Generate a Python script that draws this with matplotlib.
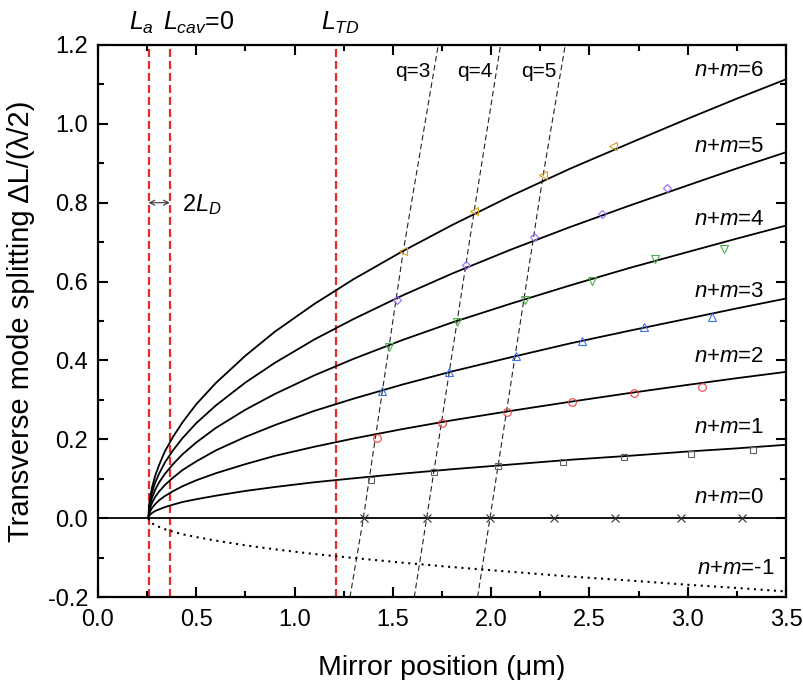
import matplotlib.pyplot as plt
from matplotlib.ticker import MultipleLocator

plt.rcParams['font.family'] = ['Liberation Sans', 'DejaVu Sans']
plt.rcParams['mathtext.fontset'] = 'custom'
plt.rcParams['mathtext.rm'] = 'Liberation Sans'
plt.rcParams['mathtext.it'] = 'Liberation Sans:italic'
plt.rcParams['axes.unicode_minus'] = False

# theory curves (mirror position in um)
x_theory = [0.257, 0.26, 0.265, 0.275, 0.29, 0.31, 0.34, 0.38, 0.43, 0.5, 0.6, 0.75,
            0.9, 1.1, 1.3, 1.55, 1.8, 2.1, 2.4, 2.7, 3.0, 3.25, 3.5]
split_6 = [0, 0.032, 0.052, 0.078, 0.106, 0.134, 0.169, 0.205, 0.243, 0.289, 0.343, 0.412,
           0.473, 0.543, 0.606, 0.677, 0.743, 0.817, 0.886, 0.950, 1.013, 1.064, 1.113]
split_5 = [0, 0.027, 0.044, 0.065, 0.089, 0.112, 0.141, 0.171, 0.203, 0.241, 0.286, 0.344,
           0.394, 0.453, 0.505, 0.565, 0.620, 0.681, 0.738, 0.792, 0.844, 0.887, 0.928]
split_4 = [0, 0.021, 0.035, 0.052, 0.071, 0.090, 0.112, 0.136, 0.162, 0.192, 0.229, 0.275,
           0.315, 0.362, 0.404, 0.452, 0.496, 0.544, 0.590, 0.634, 0.675, 0.709, 0.742]
split_3 = [0, 0.016, 0.026, 0.039, 0.053, 0.067, 0.084, 0.102, 0.122, 0.144, 0.172, 0.206,
           0.236, 0.272, 0.303, 0.339, 0.372, 0.408, 0.443, 0.475, 0.506, 0.532, 0.557]
split_2 = [0, 0.011, 0.017, 0.026, 0.035, 0.045, 0.056, 0.068, 0.081, 0.096, 0.114, 0.137,
           0.158, 0.181, 0.202, 0.226, 0.248, 0.272, 0.295, 0.317, 0.338, 0.355, 0.371]
split_1 = [0, 0.005, 0.009, 0.013, 0.018, 0.022, 0.028, 0.034, 0.041, 0.048, 0.057, 0.069,
           0.079, 0.091, 0.101, 0.113, 0.124, 0.136, 0.148, 0.158, 0.169, 0.177, 0.186]
split_m1 = [0, -0.005, -0.009, -0.013, -0.018, -0.022, -0.028, -0.034, -0.041, -0.048, -0.057, -0.069,
            -0.079, -0.091, -0.101, -0.113, -0.124, -0.136, -0.148, -0.158, -0.169, -0.177, -0.186]
x_zero = [0.0, 3.5]
split_0 = [0.0, 0.0]

# measured modes
meas6_x = [1.553, 1.914, 2.265, 2.621]
meas6_y = [0.677, 0.780, 0.871, 0.944]
meas5_x = [1.519, 1.870, 2.218, 2.565, 2.893]
meas5_y = [0.554, 0.643, 0.712, 0.771, 0.837]
meas4_x = [1.482, 1.824, 2.172, 2.511, 2.833, 3.184]
meas4_y = [0.434, 0.497, 0.552, 0.601, 0.656, 0.683]
meas3_x = [1.443, 1.787, 2.126, 2.463, 2.777, 3.126]
meas3_y = [0.322, 0.370, 0.411, 0.449, 0.485, 0.509]
meas2_x = [1.421, 1.748, 2.082, 2.412, 2.725, 3.072]
meas2_y = [0.202, 0.242, 0.269, 0.294, 0.318, 0.333]
meas1_x = [1.387, 1.707, 2.036, 2.365, 2.677, 3.016, 3.330]
meas1_y = [0.096, 0.117, 0.131, 0.142, 0.156, 0.162, 0.173]
meas0_x = [1.355, 1.672, 1.994, 2.321, 2.630, 2.964, 3.277]
meas0_y = [0, 0, 0, 0, 0, 0, 0]

# constant-q guide lines
q3_x = [1.282, 1.350, 1.553, 1.731]
q3_y = [-0.2, 0.0, 0.677, 1.2]
q4_x = [1.609, 1.672, 1.914, 2.048]
q4_y = [-0.2, 0.0, 0.780, 1.2]
q5_x = [1.931, 1.994, 2.265, 2.377]
q5_y = [-0.2, 0.0, 0.871, 1.2]

L_a = 0.257
L_cav0 = 0.365
L_TD = 1.213

fig = plt.figure(figsize=(8.04, 6.8), dpi=100)
ax = fig.add_subplot(111)
fig.subplots_adjust(left=98/804, right=786/804, top=1-45/680, bottom=1-597/680)

# red reference lines
for xv in [L_a, L_cav0, L_TD]:
    ax.axvline(xv, color='#e82a2a', lw=1.6, dashes=(3.6, 1.8), zorder=1)

# q lines
for qx, qy in [(q3_x, q3_y), (q4_x, q4_y), (q5_x, q5_y)]:
    ax.plot(qx, qy, color='#222222', lw=0.8, dashes=(5, 3), zorder=2)

for ys in [split_6, split_5, split_4, split_3, split_2, split_1]:
    ax.plot(x_theory, ys, color='black', lw=1.3, zorder=3)
ax.plot(x_zero, split_0, color='black', lw=1.3, zorder=3)
ax.plot(x_theory, split_m1, color='black', lw=1.5, linestyle=(0, (1, 2.2)), zorder=3)

mk = dict(linestyle='none', mfc='none', ms=5.5, mew=0.8, zorder=4)
ax.plot(meas6_x, meas6_y, marker='<', color='#d9a022', **mk)
ax.plot(meas5_x, meas5_y, marker='D', color='#9a6cf5', ms=4.5, mew=0.8, linestyle='none', mfc='none', zorder=4)
ax.plot(meas4_x, meas4_y, marker='v', color='#4fae4f', **mk)
ax.plot(meas3_x, meas3_y, marker='^', color='#3f72ea', **mk)
ax.plot(meas2_x, meas2_y, marker='o', color='#ee4040', **mk)
ax.plot(meas1_x, meas1_y, marker='s', color='#606060', ms=4.5, mew=0.8, linestyle='none', mfc='none', zorder=4)
ax.plot(meas0_x, meas0_y, marker='x', color='#333333', **mk)

# labels for each order
labels = [(1.135, '6'), (0.943, '5'), (0.757, '4'), (0.575, '3'),
          (0.411, '2'), (0.230, '1'), (0.052, '0'), (-0.127, '-1')]
for yv, s in labels:
    xr = 3.44 if s == '-1' else 3.39
    ax.text(xr, yv, r'$n$+$m$=' + s, fontsize=16, ha='right', va='center')

for xq, s in [(1.69, 'q=3'), (2.005, 'q=4'), (2.335, 'q=5')]:
    ax.text(xq, 1.132, s, fontsize=15, ha='right', va='center')

ax.text(0.219, 1.238, r'$L_a$', fontsize=18, ha='center', va='baseline')
ax.text(0.33, 1.238, r'$L_{cav}$=0', fontsize=18, ha='left', va='baseline')
ax.text(1.135, 1.238, r'$L_{TD}$', fontsize=18, ha='left', va='baseline')
ax.text(0.425, 0.78, r'2$L_D$', fontsize=17, ha='left', va='baseline')
ax.annotate('', xy=(L_a, 0.8), xytext=(L_cav0, 0.8),
            arrowprops=dict(arrowstyle='<->', lw=0.8, color='#333333',
                            shrinkA=0, shrinkB=0, mutation_scale=9))

ax.set_xlim(0, 3.5)
ax.set_ylim(-0.2, 1.2)
ax.xaxis.set_major_locator(MultipleLocator(0.5))
ax.xaxis.set_minor_locator(MultipleLocator(0.25))
ax.yaxis.set_major_locator(MultipleLocator(0.2))
ax.yaxis.set_minor_locator(MultipleLocator(0.1))
ax.tick_params(which='both', direction='in', top=True, right=True, width=1.5)
ax.tick_params(which='major', length=7)
ax.tick_params(which='minor', length=4.5)
ax.tick_params(axis='x', labelsize=17, pad=9)
ax.tick_params(axis='y', labelsize=17, pad=7)
for sp in ax.spines.values():
    sp.set_linewidth(1.6)

ax.set_xlabel('Mirror position (\u03bcm)', fontsize=20.5)
ax.set_ylabel('Transverse mode splitting \u0394L/(\u03bb/2)', fontsize=21)
ax.xaxis.set_label_coords(0.5, -0.105)
ax.yaxis.set_label_coords(-0.092, 0.5)

fig.savefig('out.png', dpi=100)
